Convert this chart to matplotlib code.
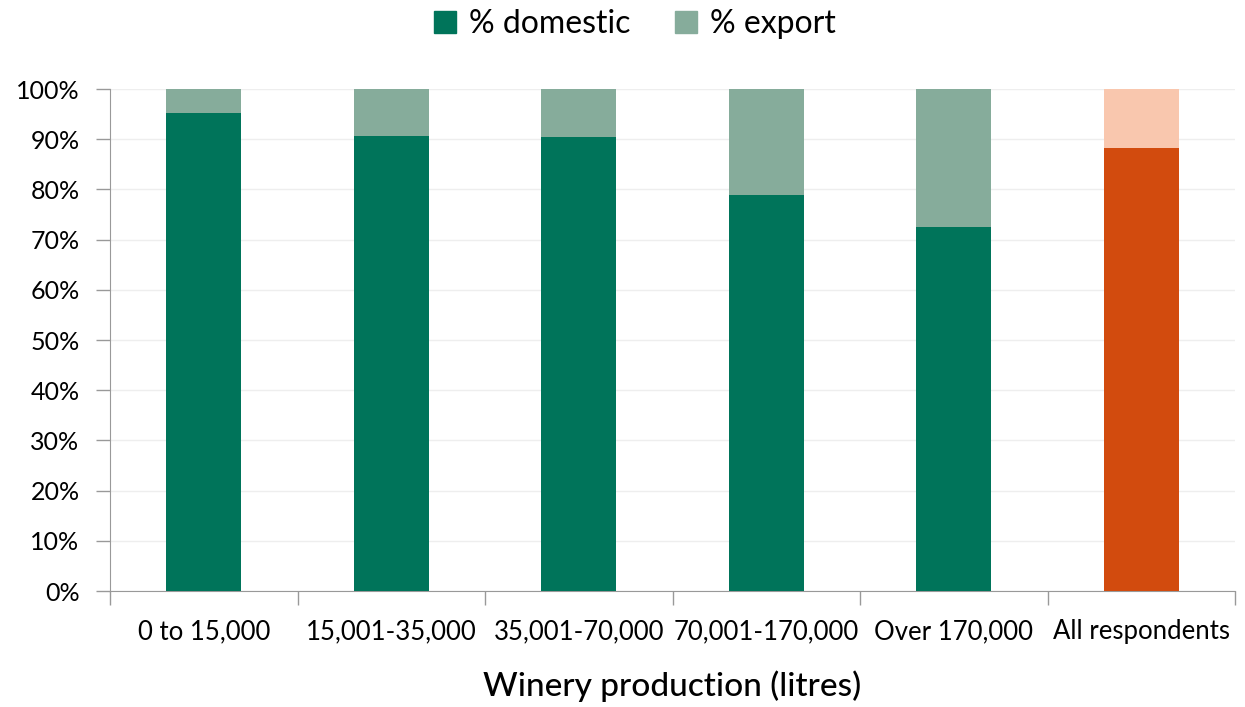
import matplotlib.pyplot as plt
from matplotlib.patches import Patch

# data
categories = ["0 to 15,000", "15,001-35,000", "35,001-70,000",
              "70,001-170,000", "Over 170,000", "All respondents"]
domestic = [95.2, 90.6, 90.4, 78.9, 72.5, 88.2]
export = [100 - d for d in domestic]

green_dark = "#00745A"
green_light = "#86AC9B"
orange_dark = "#D24B0E"
orange_light = "#F9C7AE"

dom_colors = [green_dark] * 5 + [orange_dark]
exp_colors = [green_light] * 5 + [orange_light]

plt.rcParams['font.family'] = ['Lato', 'DejaVu Sans']

fig = plt.figure(figsize=(12.45, 7.07), dpi=100)
ax = fig.add_axes([0.0884, 0.164, 0.9036, 0.710])

x = range(len(categories))
ax.bar(x, domestic, width=0.4, color=dom_colors, zorder=3)
ax.bar(x, export, width=0.4, bottom=domestic, color=exp_colors, zorder=3)

ax.set_xlim(-0.5, len(categories) - 0.5)
ax.set_ylim(0, 100)
ax.set_yticks(range(0, 101, 10))
ax.set_yticklabels([f"{v}%" for v in range(0, 101, 10)], fontsize=18)
ax.set_xticks(x)
ax.set_xticklabels(categories, fontsize=18.5)
ax.set_xticks([i - 0.5 for i in range(len(categories) + 1)], minor=True)
ax.tick_params(axis='x', which='major', length=0, pad=20)
ax.tick_params(axis='x', which='minor', length=10, color="#999999", width=1)
ax.tick_params(axis='y', length=10, color="#999999", width=1, pad=12)

ax.grid(axis='y', color="#EEEEEE", linewidth=1, zorder=0)
for s in ['top', 'right']:
    ax.spines[s].set_visible(False)
for s in ['left', 'bottom']:
    ax.spines[s].set_color("#999999")

ax.set_xlabel("Winery production (litres)", fontsize=24, fontweight='medium', labelpad=19)

handles = [Patch(color=green_dark, label="% domestic"),
           Patch(color=green_light, label="% export")]
fig.legend(handles=handles, loc='upper center', bbox_to_anchor=(0.51, 1.028), ncol=2,
           frameon=False, fontsize=23, handlelength=0.7, handleheight=0.7,
           handletextpad=0.4, columnspacing=1.4)

fig.savefig("out.png", dpi=100)
